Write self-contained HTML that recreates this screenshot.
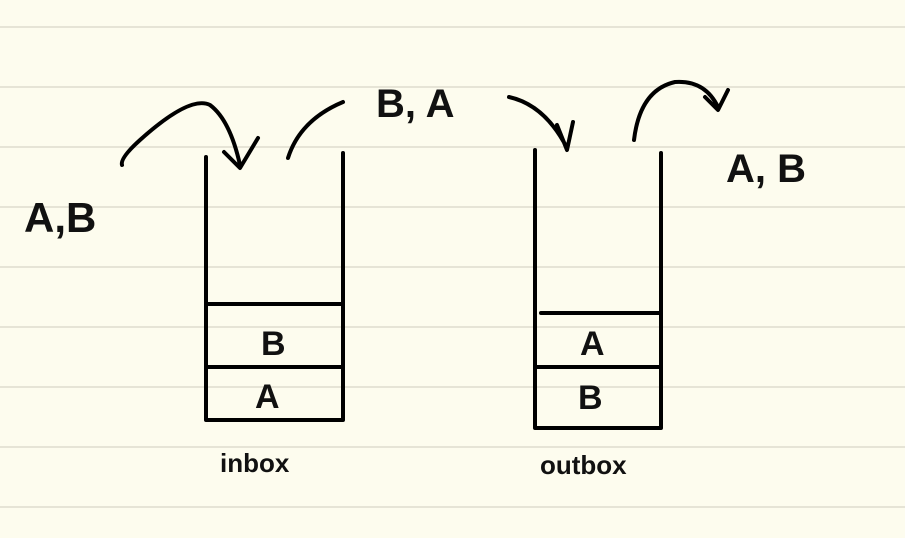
<!DOCTYPE html>
<html><head><meta charset="utf-8"><style>
html,body{margin:0;padding:0;background:#fdfcee;}
svg{display:block}
text{font-family:"Liberation Sans",sans-serif;font-weight:bold;fill:#111}
</style></head><body>
<svg width="905" height="538" viewBox="0 0 905 538">
<rect width="905" height="538" fill="#fdfcee"/>
<g stroke="#e6e4d6" stroke-width="2">
<line x1="0" y1="27" x2="905" y2="27"/><line x1="0" y1="87" x2="905" y2="87"/>
<line x1="0" y1="147" x2="905" y2="147"/><line x1="0" y1="207" x2="905" y2="207"/>
<line x1="0" y1="267" x2="905" y2="267"/><line x1="0" y1="327" x2="905" y2="327"/>
<line x1="0" y1="387" x2="905" y2="387"/><line x1="0" y1="447" x2="905" y2="447"/>
<line x1="0" y1="507" x2="905" y2="507"/>
</g>
<g fill="none" stroke="#000" stroke-width="4" stroke-linecap="round" stroke-linejoin="round">
<g>
<path d="M206 157 V420 M343 153 V420 M206 420 H343 M206 304 H343 M206 367 H343"/>
</g>
<g>
<path d="M535 150 V428 M661 153 V428 M535 428 H661 M541 313 H661 M535 367 H661"/>
</g>
<path d="M122 165 Q120 158 140 140 Q190 95 210 105 Q230 120 240 165 M224 152 L240 168 L258 138"/>
<path d="M288 158 Q300 120 343 102"/>
<path d="M509 97 Q545 105 567 148 M557 125 L567 150 L573 122"/>
<path d="M634 140 Q640 90 675 82 Q705 80 718 107 M705 97 L718 110 L728 90"/>
</g>
<text x="24" y="232" font-size="42">A,B</text>
<text x="376" y="117" font-size="40">B, A</text>
<text x="726" y="182" font-size="40">A, B</text>
<text x="261" y="355" font-size="34">B</text>
<text x="255" y="408" font-size="34">A</text>
<text x="580" y="355" font-size="34">A</text>
<text x="578" y="409" font-size="34">B</text>
<text x="220" y="472" font-size="26">inbox</text>
<text x="540" y="474" font-size="26">outbox</text>
</svg>
</body></html>
